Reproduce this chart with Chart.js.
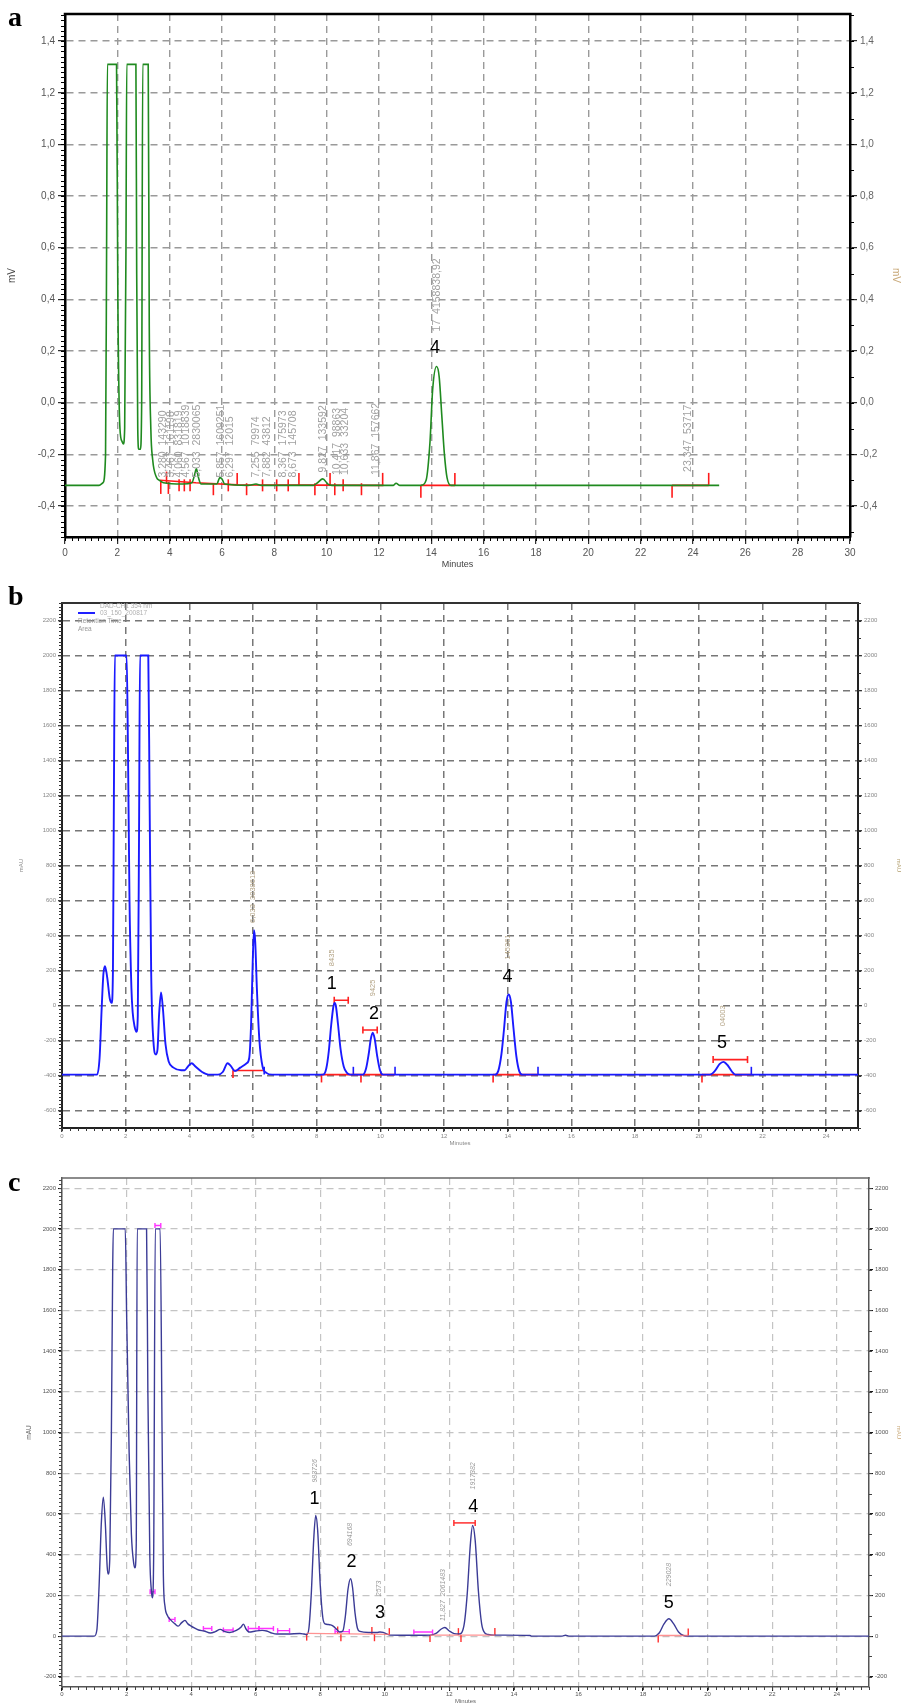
<!DOCTYPE html>
<html><head><meta charset="utf-8">
<script src="https://cdn.jsdelivr.net/npm/chart.js@4.4.1/dist/chart.umd.min.js"></script>
<style>
html,body{margin:0;padding:0;background:#fff;}
body{width:902px;height:1705px;position:relative;overflow:hidden;font-family:"Liberation Sans",Arial,sans-serif;}
canvas{position:absolute;left:0;}
.plab{position:absolute;font-family:"Liberation Serif","Times New Roman",serif;font-weight:bold;font-size:28px;line-height:1;color:#000;}
.leg{position:absolute;font-size:6.5px;line-height:1;color:#b0b0b0;white-space:nowrap;}
</style></head><body>
<canvas id="ca" width="902" height="580" style="top:0"></canvas>
<canvas id="cb" width="902" height="570" style="top:580px"></canvas>
<canvas id="cc" width="902" height="555" style="top:1150px"></canvas>
<div class="plab" style="left:8px;top:3px">a</div>
<div class="plab" style="left:8px;top:582px">b</div>
<div class="plab" style="left:8px;top:1168px">c</div>
<div style="position:absolute;left:78px;top:612px;width:17px;height:2px;background:#2020ff"></div>
<div class="leg" style="left:100px;top:603px">DAD-CH1  354 nm</div>
<div class="leg" style="left:100px;top:610px">03_150_200817</div>
<div class="leg" style="left:78px;top:618px;color:#999">Retention Time</div>
<div class="leg" style="left:78px;top:626px;color:#999">Area</div>
<script>
// ================= DATA =================
// Panel a (mV vs minutes)
const aTime = [0,1.3,1.45,1.55,1.59,1.62,1.97,2.02,2.1,2.18,2.23,2.28,2.33,2.36,2.71,2.74,2.78,2.82,2.88,2.93,2.97,3.18,3.22,3.28,3.35,3.5,3.6,3.76,4.5,4.85,4.95,5.02,5.1,5.2,5.8,5.92,6.0,6.1,7.0,7.3,7.5,9.5,9.65,9.85,10.05,10.2,12.55,12.65,12.8,13.6,13.8,13.95,14.05,14.2,14.3,14.4,14.5,14.6,14.75,25];
const aMV = [-0.32,-0.32,-0.31,-0.2,0.6,1.31,1.31,0.4,-0.1,-0.15,-0.16,-0.1,0.6,1.31,1.31,0.5,-0.1,-0.18,-0.18,0.0,1.31,1.31,0.3,-0.1,-0.22,-0.29,-0.3,-0.31,-0.315,-0.31,-0.28,-0.256,-0.29,-0.315,-0.315,-0.29,-0.295,-0.315,-0.32,-0.315,-0.32,-0.32,-0.31,-0.295,-0.315,-0.32,-0.32,-0.312,-0.32,-0.32,-0.3,-0.15,0.05,0.14,0.1,-0.05,-0.2,-0.29,-0.32,-0.32];
const aXTicks = [0,2,4,6,8,10,12,14,16,18,20,22,24,26,28,30];
const aYTicks = [-0.4,-0.2,0,0.2,0.4,0.6,0.8,1.0,1.2,1.4];
const aBaseSegs = [[[3.63,-0.30],[5.0,-0.31],[6.6,-0.318],[12.17,-0.32]],[[13.6,-0.32],[14.9,-0.32]],[[23.2,-0.32],[24.6,-0.32]]];
const aIntegMarks = [[3.66,-0.33],[3.88,-0.29],[3.95,-0.33],[4.36,-0.32],[4.56,-0.32],[4.78,-0.32],[5.67,-0.335],[6.24,-0.32],[6.58,-0.295],[6.94,-0.335],[7.55,-0.32],[8.09,-0.32],[8.53,-0.32],[8.94,-0.295],[9.55,-0.335],[10.13,-0.295],[10.31,-0.335],[10.63,-0.32],[11.33,-0.335],[12.14,-0.295],[13.6,-0.345],[14.9,-0.295],[23.2,-0.345],[24.6,-0.295]];
const aTags = [
  {x:3.76,y:-0.29,t:'3,280  143290'},{x:4.04,y:-0.29,t:'3,467  161198'},{x:4.36,y:-0.29,t:'4,060  831819'},
  {x:4.62,y:-0.29,t:'4,567  1018839'},{x:5.03,y:-0.29,t:'5,033  2830065'},{x:5.96,y:-0.29,t:'5,857  1609251'},
  {x:6.30,y:-0.29,t:'6,297  12015'},{x:7.30,y:-0.29,t:'7,255  79974'},{x:7.71,y:-0.29,t:'7,882  43812'},
  {x:8.34,y:-0.29,t:'8,367  175973'},{x:8.70,y:-0.29,t:'8,673  145708'},{x:9.85,y:-0.27,t:'9,827  133592'},
  {x:10.40,y:-0.28,t:'10,417  98863'},{x:10.72,y:-0.28,t:'10,633  33204'},{x:11.88,y:-0.28,t:'11,867  157662'},
  {x:14.21,y:0.276,t:'17  4158838,92'},{x:23.80,y:-0.268,t:'23,347  53717'}];
const aNums = [{x:14.14,y:0.21,t:'4'}];

// Panel b (mAU vs minutes)
const bTime = [0,1.1,1.18,1.25,1.3,1.35,1.42,1.5,1.56,1.6,1.63,1.66,2.03,2.07,2.12,2.18,2.22,2.28,2.34,2.38,2.42,2.45,2.71,2.75,2.8,2.87,2.95,3.0,3.05,3.11,3.17,3.25,3.35,3.5,3.74,3.85,3.95,4.07,4.2,4.4,4.6,4.9,5.05,5.2,5.3,5.43,5.6,5.8,5.88,5.94,5.99,6.03,6.07,6.12,6.2,6.3,6.42,6.6,8.2,8.3,8.38,8.45,8.52,8.56,8.6,8.67,8.75,8.85,8.95,9.05,9.45,9.55,9.63,9.7,9.76,9.82,9.9,9.98,10.08,13.6,13.7,13.8,13.88,13.96,14.03,14.1,14.18,14.27,14.36,14.46,20.35,20.5,20.65,20.77,20.9,21.05,21.15,25];
const bMAU = [-395,-395,-300,0,180,225,160,40,15,200,1200,2000,2000,1500,600,100,-40,-120,-150,-60,1000,2000,2000,1200,200,-200,-280,-250,-50,75,-20,-220,-320,-355,-370,-370,-350,-330,-350,-380,-395,-395,-380,-330,-345,-375,-355,-330,-300,-100,250,430,360,100,-200,-350,-385,-395,-395,-360,-260,-120,-10,15,0,-110,-250,-350,-385,-395,-395,-360,-280,-190,-155,-190,-290,-365,-395,-395,-375,-280,-140,20,63,20,-130,-290,-375,-395,-395,-375,-335,-322,-340,-380,-395,-395];
const bXTicks = [0,2,4,6,8,10,12,14,16,18,20,22,24];
const bYTicks = [-600,-400,-200,0,200,400,600,800,1000,1200,1400,1600,1800,2000,2200];
const bRedBaseSegs = [[[5.37,-371],[6.31,-371]],[[8.15,-395],[10.46,-395]],[[13.54,-395],[14.95,-395]],[[20.1,-395],[21.65,-395]]];
const bRedCapBars = [[8.55,8.99,30],[9.45,9.9,-140],[20.45,21.53,-309]];
const bRedMarks = [[5.37,-392],[8.15,-418],[9.39,-418],[13.54,-418],[20.1,-418]];
const bBlueMarks = [[6.35,-372],[9.15,-372],[10.46,-372],[14.95,-372],[21.65,-372]];
const bTags = [{x:6.0,y:472,t:'6,033  3038613'},{x:8.47,y:225,t:'8435'},{x:9.77,y:53,t:'9425'},{x:14.0,y:263,t:'145361'},{x:20.77,y:-118,t:'04003'}];
const bNums = [{x:8.47,y:120,t:'1'},{x:9.8,y:-46,t:'2'},{x:13.99,y:164,t:'4'},{x:20.73,y:-213,t:'5'}];

// Panel c (mAU vs minutes)
const cTime = [0,1.0,1.08,1.15,1.22,1.28,1.34,1.4,1.43,1.48,1.53,1.57,1.59,1.96,2.0,2.08,2.15,2.22,2.26,2.3,2.33,2.62,2.66,2.72,2.77,2.8,2.84,2.89,3.04,3.1,3.14,3.19,3.27,3.35,3.5,3.6,3.7,3.81,3.9,4.0,4.1,4.23,4.4,4.6,4.75,4.9,5.05,5.2,5.4,5.55,5.62,5.7,5.8,6.0,6.2,6.34,6.5,6.65,7.0,7.37,7.5,7.58,7.65,7.72,7.8,7.86,7.92,8.0,8.08,8.15,8.25,8.32,8.4,8.5,8.6,8.7,8.78,8.86,8.94,9.0,9.08,9.15,9.23,9.5,9.75,9.85,9.95,10.16,11.0,11.4,11.6,11.75,11.86,12.0,12.15,12.3,12.45,12.55,12.65,12.72,12.8,12.9,13.0,13.1,13.2,13.4,14.5,14.55,15.5,15.6,15.7,18.35,18.5,18.65,18.8,18.95,19.1,19.25,19.4,25];
const cMAU = [0,0,30,250,560,682,560,340,305,380,1000,1800,2000,2000,1600,900,500,360,335,450,2000,2000,1200,400,220,188,400,2000,2000,1000,300,147,100,82,60,49,65,77,60,49,40,30,25,15,22,33,22,18,28,45,59,35,20,25,28,25,15,10,10,13,10,8,40,200,480,592,520,250,90,60,57,55,49,35,20,25,100,230,282,240,110,40,23,18,18,20,18,5,4,5,15,35,42,25,12,10,50,200,450,543,470,220,60,15,8,5,3,0,0,4,0,0,15,60,85,60,20,3,0,0];
const cXTicks = [0,2,4,6,8,10,12,14,16,18,20,22,24];
const cYTicks = [-200,0,200,400,600,800,1000,1200,1400,1600,1800,2000,2200];
const cPinkBaseSegs = [[[7.58,13],[10.16,8]],[[11.4,5],[13.41,5]],[[18.45,3],[19.4,3]]];
const cMagentaBars = [[2.73,2.88,218],[3.32,3.5,82],[4.38,4.64,37],[5.0,5.3,30],[5.77,6.1,37],[6.1,6.55,37],[6.68,7.05,27],[8.46,8.9,22],[10.9,11.48,20],[2.88,3.06,2017]];
const cRedBars = [[12.14,12.8,556]];
const cRedMarks = [[7.58,-5],[8.54,30],[8.64,-8],[9.6,28],[9.68,-8],[10.14,22],[11.4,-12],[12.28,22],[12.36,-12],[13.41,22],[18.47,-14],[19.4,20]];
const cTags = [{x:7.84,y:754,t:'983726'},{x:8.92,y:442,t:'694168'},{x:9.83,y:196,t:'2573'},{x:11.8,y:74,t:'11,827  2061483'},{x:12.74,y:720,t:'1917382'},{x:18.8,y:245,t:'229028'}];
const cNums = [{x:7.82,y:671,t:'1'},{x:8.97,y:365,t:'2'},{x:9.85,y:111,t:'3'},{x:12.74,y:633,t:'4'},{x:18.8,y:164,t:'5'}];

// ================= HELPERS =================
const FONT = '"Liberation Sans", Arial, sans-serif';
const pts = (xs, ys) => xs.map((x, i) => ({x: x, y: ys[i]}));
const joinSegs = (list) => {
  const out = [];
  list.forEach((s, i) => {
    if (i) out.push({x: (list[i-1][list[i-1].length-1][0] + s[0][0]) / 2, y: null});
    s.forEach(p => out.push({x: p[0], y: p[1]}));
  });
  return out;
};
const barsToSegs = (bars) => bars.map(b => [[b[0], b[2]], [b[1], b[2]]]);
const marks = (list) => list.map(p => ({x: p[0], y: p[1]}));

const notesPlugin = {
  id: 'notes',
  afterDatasetsDraw(chart, args, opts) {
    const ctx = chart.ctx, xs = chart.scales.x, ys = chart.scales.y;
    (opts.groups || []).forEach(g => {
      ctx.save();
      ctx.fillStyle = g.color; ctx.font = g.font;
      g.items.forEach(it => {
        const px = xs.getPixelForValue(it.x), py = ys.getPixelForValue(it.y);
        ctx.save(); ctx.translate(px, py);
        if (g.rotate) { ctx.rotate(-Math.PI / 2); ctx.textAlign = 'left'; ctx.textBaseline = 'middle'; }
        else { ctx.textAlign = 'center'; ctx.textBaseline = 'middle'; }
        ctx.fillText(it.t, 0, 0);
        ctx.restore();
      });
      ctx.restore();
    });
  }
};
const minorPlugin = {
  id: 'minor',
  afterDraw(chart, args, opts) {
    const ctx = chart.ctx;
    ctx.save(); ctx.strokeStyle = opts.color || '#000'; ctx.lineWidth = opts.width || 1;
    ctx.beginPath();
    (opts.axes || []).forEach(a => {
      const s = chart.scales[a.id]; if (!s) return;
      const n0 = Math.ceil(s.min / a.step - 1e-9), n1 = Math.floor(s.max / a.step + 1e-9);
      for (let n = n0; n <= n1; n++) {
        const p = Math.round(s.getPixelForValue(n * a.step)) + 0.5;
        if (s.isHorizontal()) { ctx.moveTo(p, s.top); ctx.lineTo(p, s.top + a.len); }
        else if (s.position === 'left') { ctx.moveTo(s.right, p); ctx.lineTo(s.right - a.len, p); }
        else { ctx.moveTo(s.left, p); ctx.lineTo(s.left + a.len, p); }
      }
    });
    ctx.stroke(); ctx.restore();
  }
};
const framePlugin = {
  id: 'frame',
  afterDraw(chart, args, opts) {
    const a = chart.chartArea, ctx = chart.ctx;
    ctx.save(); ctx.strokeStyle = opts.color; ctx.lineWidth = opts.width;
    ctx.beginPath(); ctx.moveTo(a.left - opts.width / 2, a.top); ctx.lineTo(a.right + opts.width / 2, a.top); ctx.stroke();
    ctx.restore();
  }
};

function mkScale(o) {
  return {
    type: 'linear', position: o.pos, min: o.min, max: o.max, display: true,
    afterFit: s => { if (s.isHorizontal()) s.height = o.size; else s.width = o.size; },
    afterBuildTicks: s => { s.ticks = o.ticks.map(v => ({value: v})); },
    ticks: {autoSkip: false, maxRotation: 0, minRotation: 0, padding: o.pad, color: o.labelColor,
      font: {family: FONT, size: o.fs}, callback: o.fmt},
    grid: {display: true, drawOnChartArea: o.onArea, color: o.gridColor, lineWidth: o.gridW,
      drawTicks: true, tickLength: o.tickLen, tickColor: o.tickColor || '#000', tickWidth: 1, tickBorderDash: []},
    border: {display: true, color: o.borderColor, width: o.borderW, dash: o.dash},
    title: {display: !!o.title, text: o.title || '', color: o.titleColor, font: {family: FONT, size: o.titleFs},
      padding: {top: o.titlePad || 0, bottom: o.titlePad || 0}}
  };
}
function lineDS(data, color, width, extra) {
  return Object.assign({data: data, borderColor: color, borderWidth: width, pointRadius: 0, pointHoverRadius: 0,
    fill: false, spanGaps: false, xAxisID: 'x', yAxisID: 'y'}, extra || {});
}
function markDS(data, color, r, w) {
  return {data: data, showLine: false, pointStyle: 'line', pointRotation: 90, pointRadius: r, pointHoverRadius: r,
    pointBorderColor: color, pointBorderWidth: w, borderColor: color, xAxisID: 'x', yAxisID: 'y'};
}
function capDS(data, color, r, w) {
  return {data: data, borderColor: color, borderWidth: w, spanGaps: false, pointStyle: 'line', pointRotation: 90,
    pointRadius: r, pointHoverRadius: r, pointBorderColor: color, pointBorderWidth: w, xAxisID: 'x', yAxisID: 'y'};
}
const commaFmt = v => (Math.round(v * 10) / 10).toFixed(1).replace('.', ',');
const intFmt = v => String(Math.round(v));
const base = {responsive: false, animation: false, devicePixelRatio: 1, events: []};

// ================= PANEL A =================
new Chart(document.getElementById('ca'), {
  type: 'line',
  data: {datasets: [
    lineDS(pts(aTime, aMV), '#1f8a1f', 1.6, {cubicInterpolationMode: 'monotone'}),
    lineDS(joinSegs(aBaseSegs), '#ff1a1a', 1.6),
    markDS(marks(aIntegMarks), '#ff1a1a', 6, 1.6)
  ]},
  options: Object.assign({}, base, {
    layout: {padding: {top: 14, left: 0, right: 0, bottom: 0}},
    plugins: {legend: {display: false}, tooltip: {enabled: false},
      frame: {color: '#000', width: 2.5},
      minor: {color: '#000', width: 1, axes: [{id: 'x', step: 0.25, len: 4}, {id: 'y', step: 0.02, len: 4}, {id: 'y2', step: 0.1, len: 4}]},
      notes: {groups: [
        {rotate: true, color: '#a0a0a0', font: '10.5px ' + FONT, items: aTags},
        {rotate: false, color: '#000', font: '18px ' + FONT, items: aNums}]}
    },
    scales: {
      x: mkScale({pos: 'bottom', min: 0, max: 30, ticks: aXTicks, fmt: intFmt, size: 43, pad: 3, fs: 10, labelColor: '#555',
        gridColor: '#9a9a9a', gridW: 1.4, dash: [7, 5], tickLen: 7, borderColor: '#000', borderW: 2.5, onArea: true,
        title: 'Minutes', titleFs: 9, titlePad: 10, titleColor: '#444'}),
      y: mkScale({pos: 'left', min: -0.52, max: 1.505, ticks: aYTicks, fmt: commaFmt, size: 65, pad: 3, fs: 10, labelColor: '#555',
        gridColor: '#9a9a9a', gridW: 1.4, dash: [7, 5], tickLen: 7, borderColor: '#000', borderW: 2.5, onArea: true,
        title: 'mV', titleFs: 10, titlePad: 6, titleColor: '#444'}),
      y2: mkScale({pos: 'right', min: -0.52, max: 1.505, ticks: aYTicks, fmt: commaFmt, size: 52, pad: 3, fs: 10, labelColor: '#666',
        gridColor: '#9a9a9a', gridW: 1.4, dash: [7, 5], tickLen: 7, borderColor: '#000', borderW: 2.5, onArea: false,
        title: 'mV', titleFs: 10, titlePad: 0, titleColor: '#c8a878'})
    }
  }),
  plugins: [notesPlugin, minorPlugin, framePlugin]
});

// ================= PANEL B =================
new Chart(document.getElementById('cb'), {
  type: 'line',
  data: {datasets: [
    lineDS(pts(bTime, bMAU), '#1a1aff', 1.9, {cubicInterpolationMode: 'monotone'}),
    lineDS(joinSegs(bRedBaseSegs), '#ff2020', 1.6),
    capDS(joinSegs(barsToSegs(bRedCapBars)), '#ff2020', 3.5, 1.6),
    markDS(marks(bRedMarks), '#ff2020', 3.8, 1.6),
    markDS(marks(bBlueMarks), '#1a1aff', 3.8, 1.6)
  ]},
  options: Object.assign({}, base, {
    layout: {padding: {top: 23, left: 0, right: 0, bottom: 0}},
    plugins: {legend: {display: false}, tooltip: {enabled: false},
      frame: {color: '#333', width: 2},
      minor: {color: '#333', width: 1, axes: [{id: 'x', step: 0.25, len: 3}, {id: 'y', step: 20, len: 3}, {id: 'y2', step: 100, len: 3}]},
      notes: {groups: [
        {rotate: true, color: '#b4a486', font: '7.5px ' + FONT, items: bTags},
        {rotate: false, color: '#000', font: '18px ' + FONT, items: bNums}]}
    },
    scales: {
      x: mkScale({pos: 'bottom', min: 0, max: 25, ticks: bXTicks, fmt: intFmt, size: 22, pad: 1, fs: 6, labelColor: '#888',
        gridColor: '#777', gridW: 1.5, dash: [7, 5], tickLen: 4, borderColor: '#222', borderW: 2, onArea: true,
        title: 'Minutes', titleFs: 6, titlePad: 3, titleColor: '#888'}),
      y: mkScale({pos: 'left', min: -700, max: 2300, ticks: bYTicks, fmt: intFmt, size: 62, pad: 2, fs: 6, labelColor: '#888',
        gridColor: '#777', gridW: 1.5, dash: [7, 5], tickLen: 4, borderColor: '#222', borderW: 2, onArea: true,
        title: 'mAU', titleFs: 6, titlePad: 18, titleColor: '#888'}),
      y2: mkScale({pos: 'right', min: -700, max: 2300, ticks: bYTicks, fmt: intFmt, size: 44, pad: 2, fs: 6, labelColor: '#888',
        gridColor: '#777', gridW: 1.5, dash: [7, 5], tickLen: 4, borderColor: '#222', borderW: 2, onArea: false,
        title: 'mAU', titleFs: 6, titlePad: 0, titleColor: '#b4a070'})
    }
  }),
  plugins: [notesPlugin, minorPlugin, framePlugin]
});

// ================= PANEL C =================
new Chart(document.getElementById('cc'), {
  type: 'line',
  data: {datasets: [
    lineDS(joinSegs(cPinkBaseSegs), 'rgba(255,110,110,0.75)', 1.3),
    lineDS(pts(cTime, cMAU), '#3b3b96', 1.4, {cubicInterpolationMode: 'monotone'}),
    capDS(joinSegs(barsToSegs(cMagentaBars)), '#ff33ff', 2.5, 1.4),
    capDS(joinSegs(barsToSegs(cRedBars)), '#ff3030', 3, 1.5),
    markDS(marks(cRedMarks), '#ff3030', 3.5, 1.4)
  ]},
  options: Object.assign({}, base, {
    layout: {padding: {top: 28, left: 0, right: 0, bottom: 0}},
    plugins: {legend: {display: false}, tooltip: {enabled: false},
      frame: {color: '#666', width: 1.5},
      minor: {color: '#444', width: 1, axes: [{id: 'x', step: 0.25, len: 3}, {id: 'y', step: 20, len: 3}, {id: 'y2', step: 100, len: 3}]},
      notes: {groups: [
        {rotate: true, color: '#9a9a9a', font: 'italic 7px ' + FONT, items: cTags},
        {rotate: false, color: '#000', font: '18px ' + FONT, items: cNums}]}
    },
    scales: {
      x: mkScale({pos: 'bottom', min: 0, max: 25, ticks: cXTicks, fmt: intFmt, size: 18, pad: 0, fs: 6, labelColor: '#555',
        gridColor: '#c4c4c4', gridW: 1.2, dash: [7, 5], tickLen: 4, borderColor: '#555', borderW: 1.5, onArea: true,
        title: 'Minutes', titleFs: 6, titlePad: 0, titleColor: '#666'}),
      y: mkScale({pos: 'left', min: -250, max: 2250, ticks: cYTicks, fmt: intFmt, size: 62, pad: 2, fs: 6, labelColor: '#555',
        gridColor: '#c4c4c4', gridW: 1.2, dash: [7, 5], tickLen: 4, borderColor: '#555', borderW: 1.5, onArea: true,
        title: 'mAU', titleFs: 6.5, titlePad: 25, titleColor: '#666'}),
      y2: mkScale({pos: 'right', min: -250, max: 2250, ticks: cYTicks, fmt: intFmt, size: 33, pad: 2, fs: 6, labelColor: '#555',
        gridColor: '#c4c4c4', gridW: 1.2, dash: [7, 5], tickLen: 4, borderColor: '#555', borderW: 1.5, onArea: false,
        title: 'mAU', titleFs: 6, titlePad: 0, titleColor: '#c8a878'})
    }
  }),
  plugins: [notesPlugin, minorPlugin, framePlugin]
});
</script>
</body></html>
